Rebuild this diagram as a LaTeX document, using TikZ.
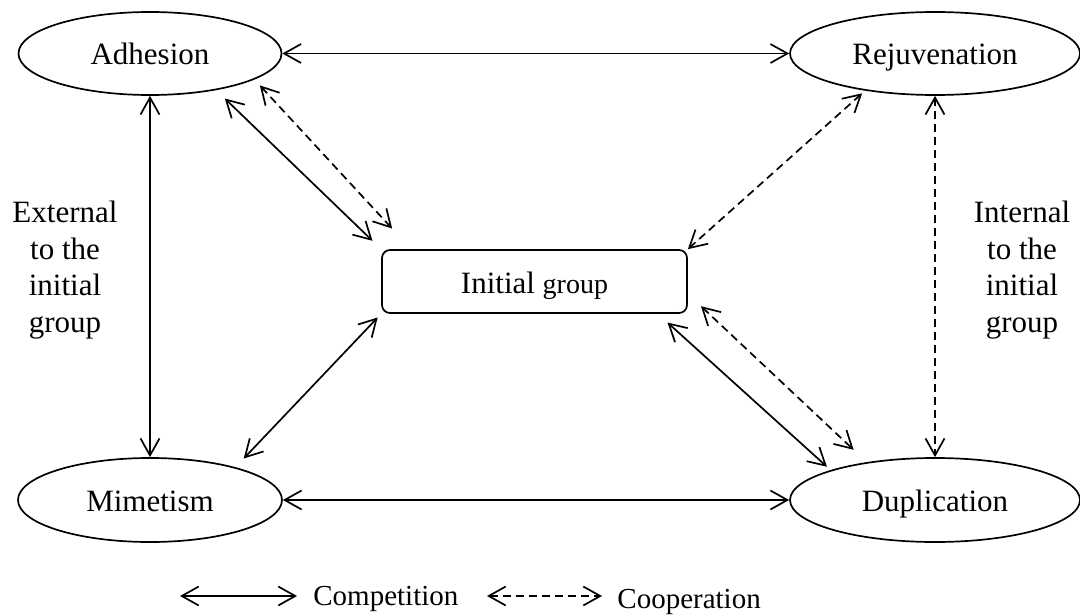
\documentclass[tikz,border=0pt]{standalone}
\usepackage{fontspec}
\setmainfont{Liberation Serif}
\usetikzlibrary{arrows.meta,calc,shapes.geometric,positioning}

\tikzset{
  barb/.tip={Straight Barb[length=8.5pt,width=9.5pt]},
  state/.style={draw, ellipse, line width=0.85pt, inner sep=0pt,
    minimum height=41.5pt, text height=12.5pt, text depth=1pt,
    font=\fontsize{15.5}{18}\selectfont},
  core/.style={draw, rectangle, rounded corners=4pt, line width=0.85pt,
    inner sep=0pt, text height=12.5pt, text depth=1pt,
    font=\fontsize{15.5}{18}\selectfont},
  side/.style={align=center, inner sep=0pt, font=\fontsize{15.5}{18.25}\selectfont},
  legend/.style={inner sep=0pt, font=\fontsize{14.5}{16}\selectfont},
  comp/.style={barb-barb, line width=0.85pt},
  coop/.style={comp, dash pattern=on 4pt off 2.5pt},
}

\begin{document}
\begin{tikzpicture}[x=0.5pt, y=-0.5pt]
    \useasboundingbox (0,0) rectangle (1080,615);
    % Four strategies
    \node[state, minimum width=131.5pt] (adh) at (150,53.5) {Adhesion};
    \node[state, minimum width=145pt] (rej) at (935,53.5) {Rejuvenation};
    \node[state, minimum width=132pt, minimum height=42pt] (mim) at (150,500) {Mimetism};
    \node[state, minimum width=145pt, minimum height=42pt] (dup) at (935,500) {Duplication};
    % Initial group
    \node[core, minimum width=152.5pt, minimum height=31.5pt] (init) at (534.5,281.5)
        {Initial {\fontsize{14}{16}\selectfont group}};
    % Side labels
    \node[side] (ext) at (65,270) {External\\to the\\initial\\group};
    \node[side] (int) at (1022,270) {Internal\\to the\\initial\\group};
    % Outer links
    \draw[comp] (adh) -- (rej);
    \draw[comp] (mim) -- (dup);
    \draw[comp] (adh) -- (mim);
    \draw[coop] (rej) -- (dup);
    % Links to the initial group
    \draw[comp, shorten <=6pt, shorten >=6pt] (adh.-29) -- (init.north west);
    \draw[coop, shorten <=4pt, shorten >=14pt] (adh.-14) -- ([shift={(30,0)}]init.north west);
    \draw[coop, shorten <=2pt] (rej.-152) -- (init.north east);
    \draw[comp, shorten <=6.5pt, shorten >=2.5pt] ([shift={(-30,0)}]init.south east) -- (dup.164);
    \draw[coop, shorten <=9pt, shorten >=9pt] ([shift={(0,-20)}]init.south east) -- (dup.151.5);
    \draw[comp, shorten <=2.5pt, shorten >=6pt] (init.south west) -- (mim.21);
    % Legend
    \coordinate (c1) at (180,596);
    \coordinate (c2) at (297,596);
    \coordinate (d1) at (487,596);
    \coordinate (d2) at (602,596);
    \draw[comp] (c1) -- (c2);
    \draw[coop] (d1) -- (d2);
    \node[legend, anchor=base west] (complab) at (313,605) {Competition};
    \node[legend, anchor=base west] (cooplab) at (617,608) {Cooperation};
\end{tikzpicture}
\end{document}
